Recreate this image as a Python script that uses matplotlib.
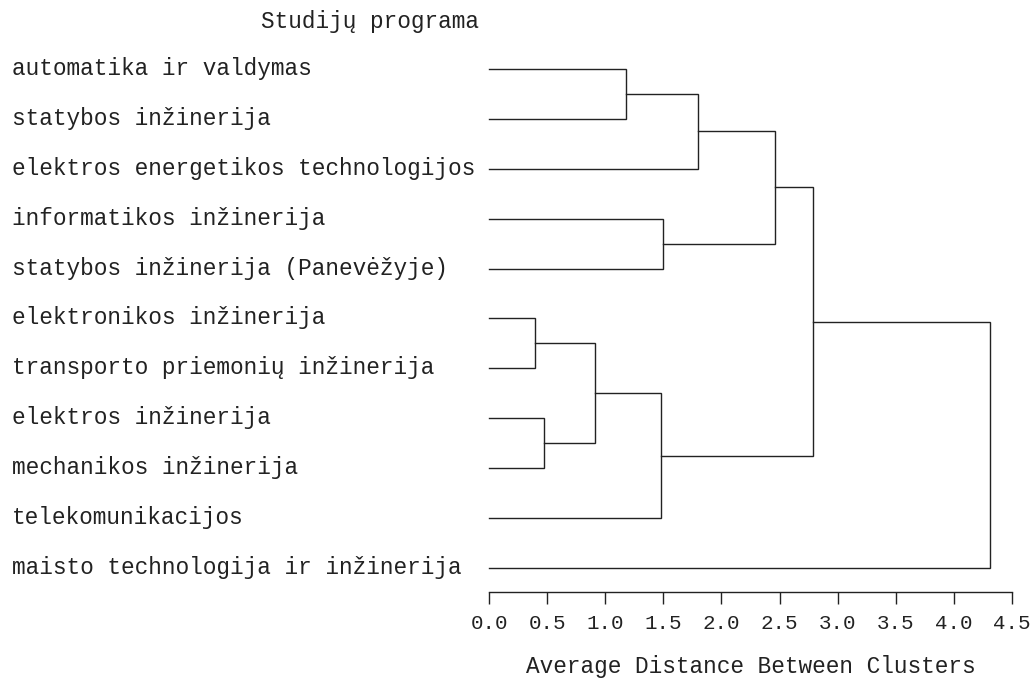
import matplotlib.pyplot as plt
import matplotlib.transforms as mtransforms

# leaves, top to bottom
labels = [
    "automatika ir valdymas",
    "statybos inžinerija",
    "elektros energetikos technologijos",
    "informatikos inžinerija",
    "statybos inžinerija (Panevėžyje)",
    "elektronikos inžinerija",
    "transporto priemonių inžinerija",
    "elektros inžinerija",
    "mechanikos inžinerija",
    "telekomunikacijos",
    "maisto technologija ir inžinerija",
]

# merges: (left node, right node, distance); new node ids start at len(labels)
merge_left = [0, 11, 3, 12, 5, 7, 15, 17, 14, 19]
merge_right = [1, 2, 4, 13, 6, 8, 16, 9, 18, 10]
merge_height = [1.175, 1.80, 1.50, 2.465, 0.40, 0.475, 0.91, 1.48, 2.79, 4.31]

xticks = [0.0, 0.5, 1.0, 1.5, 2.0, 2.5, 3.0, 3.5, 4.0, 4.5]

FONT = "Liberation Mono"
INK = "#222222"

fig = plt.figure(figsize=(10.32, 6.82), dpi=100)
ax = fig.add_axes([489 / 1032, 90 / 682, 523 / 1032, 548 / 682])

# node positions: leaves at row index, distance 0
ypos = {i: float(i) for i in range(len(labels))}
xpos = {i: 0.0 for i in range(len(labels))}

for k, (a, b, h) in enumerate(zip(merge_left, merge_right, merge_height)):
    node = len(labels) + k
    ax.plot([xpos[a], h, h, xpos[b]], [ypos[a], ypos[a], ypos[b], ypos[b]],
            color=INK, lw=1.0, clip_on=False, solid_joinstyle="miter")
    xpos[node] = h
    ypos[node] = (ypos[a] + ypos[b]) / 2

ax.set_xlim(0, 4.5)
ax.set_ylim(10.48, -0.5)

for s in ["left", "right", "top"]:
    ax.spines[s].set_visible(False)
ax.spines["bottom"].set_color(INK)
ax.spines["bottom"].set_linewidth(1.0)

ax.set_yticks([])
ax.set_xticks(xticks)
ax.set_xticklabels(["{:.1f}".format(t) for t in xticks], fontfamily=FONT,
                   fontsize=15, color=INK)
ax.tick_params(axis="x", direction="out", length=8.6, width=1.0, color=INK,
               pad=7)
ax.set_xlabel("Average Distance Between Clusters", fontfamily=FONT,
              fontsize=16.4, color=INK, labelpad=16)

# row labels
trans = mtransforms.blended_transform_factory(fig.transFigure, ax.transData)
for i, lab in enumerate(labels):
    ax.text(12 / 1032, i + 0.12, lab, transform=trans, ha="left",
            va="baseline", fontfamily=FONT, fontsize=16.4, color=INK)

fig.text(479 / 1032, 1 - 28 / 682, "Studijų programa", ha="right",
         va="baseline", fontfamily=FONT, fontsize=16.4, color=INK)

fig.savefig("out.png", dpi=100, facecolor="white")
